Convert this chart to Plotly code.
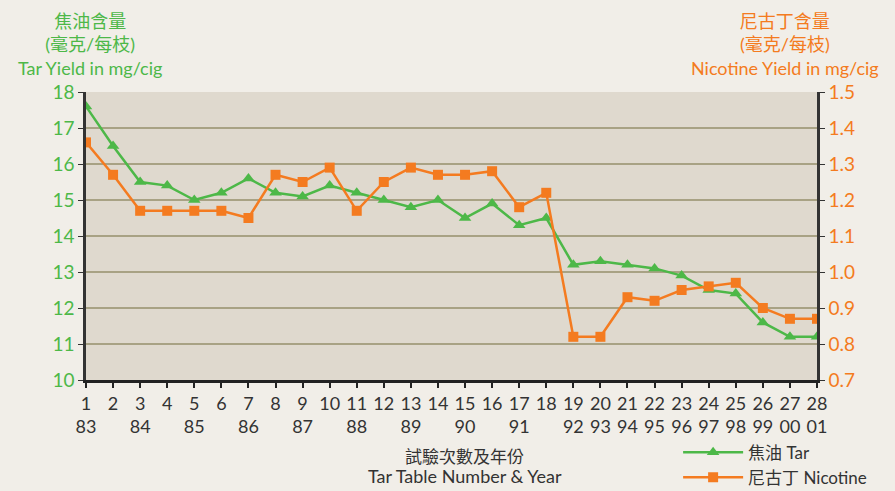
import plotly.graph_objects as go

table_no = list(range(1, 29))
year_labels = ["83", "", "84", "", "85", "", "86", "", "87", "", "88", "", "89", "", "90", "", "91", "",
               "92", "93", "94", "95", "96", "97", "98", "99", "00", "01"]
tar = [17.6, 16.5, 15.5, 15.4, 15.0, 15.2, 15.6, 15.2, 15.1, 15.4, 15.2, 15.0, 14.8, 15.0,
       14.5, 14.9, 14.3, 14.5, 13.2, 13.3, 13.2, 13.1, 12.9, 12.5, 12.4, 11.6, 11.2, 11.2]
nicotine = [1.36, 1.27, 1.17, 1.17, 1.17, 1.17, 1.15, 1.27, 1.25, 1.29, 1.17, 1.25, 1.29, 1.27,
            1.27, 1.28, 1.18, 1.22, 0.82, 0.82, 0.93, 0.92, 0.95, 0.96, 0.97, 0.90, 0.87, 0.87]

GREEN = "#4DB848"
ORANGE = "#F47B20"
FONT = "Lato, 'Noto Sans CJK TC', sans-serif"

ticktext = [f"{n}<br>{y}" if y else f"{n}<br> " for n, y in zip(table_no, year_labels)]

fig = go.Figure()
fig.add_trace(go.Scatter(x=table_no, y=tar, name="焦油 Tar", mode="lines+markers",
                         line=dict(color=GREEN, width=2.5),
                         marker=dict(symbol="triangle-up", size=11, color=GREEN)))
fig.add_trace(go.Scatter(x=table_no, y=nicotine, name="尼古丁 Nicotine", mode="lines+markers",
                         yaxis="y2", line=dict(color=ORANGE, width=2.5),
                         marker=dict(symbol="square", size=10, color=ORANGE)))

fig.update_layout(
    width=895, height=491,
    margin=dict(l=86, r=78, t=92, b=111, autoexpand=False),
    paper_bgcolor="#F1EEE8", plot_bgcolor="#DFD9CE",
    font=dict(family=FONT, size=17, color="#333333"),
    showlegend=True,
    legend=dict(x=0.81, xanchor="left", y=-0.19, yanchor="top", bgcolor="rgba(0,0,0,0)",
                font=dict(size=17, color="#333333"), tracegroupgap=0, itemwidth=60),
    xaxis=dict(range=[1, 28], tickvals=table_no, ticktext=ticktext, showgrid=False,
               showline=True, linecolor="#222222", linewidth=3, ticks="outside",
               ticklen=5, tickwidth=1.5, tickcolor="#222222", zeroline=False,
               tickfont=dict(size=18, color="#333333")),
    yaxis=dict(range=[10, 18], dtick=1, showgrid=True, gridcolor="#A8A284", gridwidth=2,
               showline=True, linecolor="#333333", linewidth=2.5, ticks="outside",
               ticklen=5, tickcolor="#333333", zeroline=False,
               tickfont=dict(size=19, color=GREEN)),
    yaxis2=dict(range=[0.7, 1.5], dtick=0.1, tickformat=".1f", overlaying="y", side="right",
                showgrid=False, showline=True, linecolor="#333333", linewidth=2.5,
                ticks="outside", ticklen=5, tickcolor="#333333", zeroline=False,
                tickfont=dict(size=19, color=ORANGE)),
)
fig.add_annotation(text="焦油含量<br>(毫克/每枝)<br>Tar Yield in mg/cig", xref="paper", yref="paper",
                   x=0.005, y=1.29, xanchor="center", yanchor="top", showarrow=False,
                   font=dict(size=18, color=GREEN))
fig.add_annotation(text="尼古丁含量<br>(毫克/每枝)<br>Nicotine Yield in mg/cig", xref="paper", yref="paper",
                   x=0.956, y=1.29, xanchor="center", yanchor="top", showarrow=False,
                   font=dict(size=18, color=ORANGE))
fig.add_annotation(text="試驗次數及年份", xref="paper", yref="paper",
                   x=0.518, y=-0.264, xanchor="center", yanchor="middle", showarrow=False,
                   font=dict(size=17, color="#333333"))
fig.add_annotation(text="Tar Table Number & Year", xref="paper", yref="paper",
                   x=0.518, y=-0.333, xanchor="center", yanchor="middle", showarrow=False,
                   font=dict(size=18, color="#333333"))

fig.write_html("out.html", config={"displayModeBar": False},
               post_script="document.body.style.margin='0';")
